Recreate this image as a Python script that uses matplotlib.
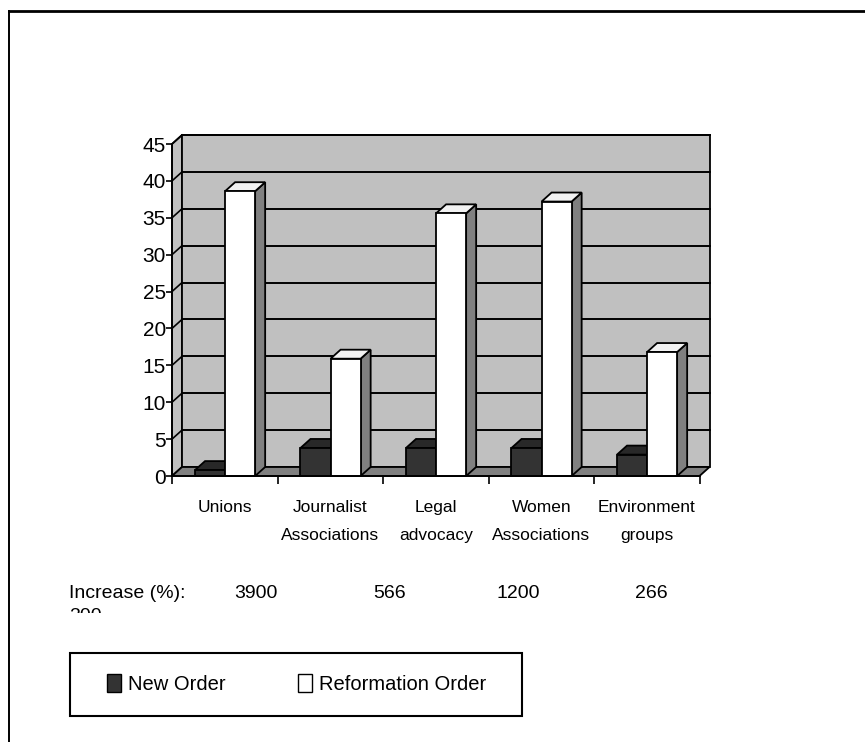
import numpy as np
import matplotlib
matplotlib.use("Agg")
import matplotlib.pyplot as plt
from matplotlib.patches import Polygon, Rectangle, Patch
from matplotlib.lines import Line2D
from matplotlib.transforms import Bbox, TransformedBbox

# chart data
categories = ["Unions", "Journalist\nAssociations", "Legal\nadvocacy",
              "Women\nAssociations", "Environment\ngroups"]
new_order = [0.8, 3.8, 3.8, 3.8, 2.9]
reformation_order = [38.6, 15.9, 35.6, 37.2, 16.8]
increase = ["3900", "566", "1200", "266", "300"]
series_names = ["New Order", "Reformation Order"]
y_ticks = list(range(0, 50, 5))

W, H = 865, 742
SANS = ["Liberation Sans", "DejaVu Sans"]


def px(x, y):
    # pixel position -> figure fraction
    return x / W, 1 - y / H


fig = plt.figure(figsize=(W / 100, H / 100), dpi=100)

# outer frame lines (top and left only)
fig.add_artist(Line2D([9 / W, 1], [1 - 11 / H, 1 - 11 / H], transform=fig.transFigure,
                      color="black", lw=2))
fig.add_artist(Line2D([9 / W, 9 / W], [0, 1 - 11 / H], transform=fig.transFigure,
                      color="black", lw=1.4))

ax = fig.add_axes([172 / W, (H - 476) / H, 527.5 / W, 332 / H])
ax.set_xlim(0, 5)
ax.set_ylim(0, 45)
ax.patch.set_visible(False)

DX, DY = 0.095, 1.22  # depth offset in data units
n = len(categories)
edge = dict(edgecolor="black", lw=1.3, clip_on=False)

# side wall, back wall and floor
ax.add_patch(Polygon([(0, 0), (DX, DY), (DX, 45 + DY), (0, 45)], facecolor="#c0c0c0",
                     zorder=1, **edge))
ax.add_patch(Rectangle((DX, DY), n, 45, facecolor="#c0c0c0", zorder=1, **edge))
for v in y_ticks[1:]:
    ax.plot([DX, n + DX], [v + DY, v + DY], color="black", lw=1.4, zorder=2, clip_on=False)
    ax.plot([0, DX], [v, v + DY], color="black", lw=1.2, zorder=2, clip_on=False)
ax.add_patch(Polygon([(0, 0), (n, 0), (n + DX, DY), (DX, DY)], facecolor="#808080",
                     zorder=3, **edge))


def bar3d(x0, w, v, front, top, side):
    ax.add_patch(Polygon([(x0 + w, 0), (x0 + w + DX, DY), (x0 + w + DX, v + DY), (x0 + w, v)],
                         facecolor=side, zorder=4, **edge))
    ax.add_patch(Polygon([(x0, v), (x0 + w, v), (x0 + w + DX, v + DY), (x0 + DX, v + DY)],
                         facecolor=top, zorder=4, **edge))
    ax.add_patch(Rectangle((x0, 0), w, v, facecolor=front, zorder=4, **edge))


bw = 0.285
for i in range(n):
    bar3d(i + 0.218, bw, new_order[i], "#333333", "#282828", "#1e1e1e")
    bar3d(i + 0.503, bw, reformation_order[i], "white", "#f2f2f2", "#808080")

for s in ["top", "right"]:
    ax.spines[s].set_visible(False)
for s in ["left", "bottom"]:
    ax.spines[s].set_linewidth(1.3)
    ax.spines[s].set_zorder(6)

ax.set_yticks(y_ticks)
ax.set_yticklabels([str(t) for t in y_ticks], family=SANS, fontsize=15)
ax.tick_params(axis="y", direction="out", length=4, width=1.2, pad=0.5)

ax.set_xticks(np.arange(n + 1))
ax.set_xticklabels([])
ax.tick_params(axis="x", which="major", direction="out", length=6, width=1.2)
ax.set_xticks(np.arange(n) + 0.5, minor=True)
ax.set_xticklabels(categories, minor=True, family=SANS, fontsize=12.5,
                   linespacing=2.15, va="top")
ax.tick_params(axis="x", which="minor", length=0, pad=17)

# increase row
fig.text(*px(69, 593), "Increase (%):", family=SANS, fontsize=14, va="center", ha="left")
for xp, val in zip([234, 373, 497, 635], increase[:4]):
    fig.text(*px(xp, 593), val, family=SANS, fontsize=14, va="center", ha="left")
t = fig.text(*px(69, 608), increase[4], family=SANS, fontsize=14, va="top", ha="left")
x0f, y0f = px(0, 613)
t.set_clip_box(TransformedBbox(Bbox.from_extents(0, y0f, 1, 1), fig.transFigure))
t.set_clip_on(True)

# legend box
bx0, by0 = px(70, 716)
bx1, by1 = px(522, 653)
fig.add_artist(Rectangle((bx0, by0), bx1 - bx0, by1 - by0, transform=fig.transFigure,
                         facecolor="white", edgecolor="black", lw=1.5))
handles = [Patch(facecolor="#333333", edgecolor="black", lw=1),
           Patch(facecolor="white", edgecolor="black", lw=1)]
fig.legend(handles, series_names, loc="center", bbox_to_anchor=px(296.5, 684), ncol=2,
           frameon=False, prop={"family": SANS, "size": 14.5}, handlelength=0.7,
           handleheight=0.95, handletextpad=0.35, columnspacing=3.6)

fig.savefig("out.png", dpi=100)
